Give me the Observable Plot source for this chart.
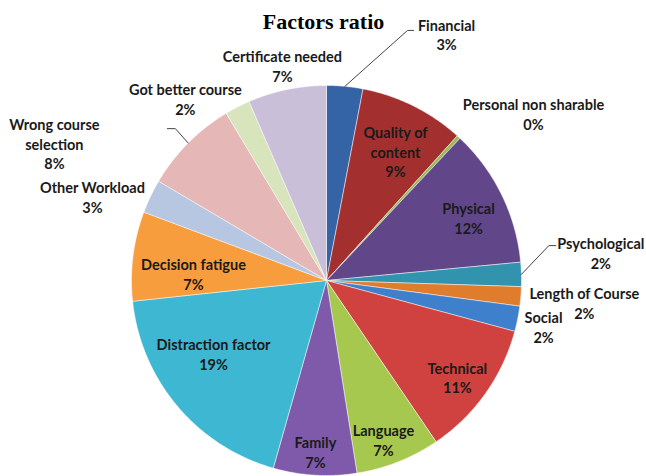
<!DOCTYPE html>
<html><head><meta charset="utf-8">
<script src="https://cdn.jsdelivr.net/npm/d3@7"></script>
<script src="https://cdn.jsdelivr.net/npm/@observablehq/plot@0.6"></script>
<style>body{margin:0;background:#fff;overflow:hidden}</style>
</head><body><div id="chart"></div>
<script>
// ---- data ----
const factors = ["Financial", "Quality of content", "Personal non sharable", "Physical", "Psychological",
  "Length of Course", "Social", "Technical", "Language", "Family", "Distraction factor",
  "Decision fatigue", "Other Workload", "Wrong course selection", "Got better course", "Certificate needed"];
const shares = [3.0, 8.7, 0.3, 11.5, 2.0, 1.6, 2.1, 11.3, 7.0, 6.9, 18.9, 7.4, 2.8, 7.9, 2.1, 6.5];
const colors = ["#3564A6", "#A3302F", "#9BBB59", "#61478A", "#3193AE", "#E07D2C", "#3F80CD", "#D0423F",
  "#A6C84E", "#7F5AAB", "#3EB7D3", "#F79D3E", "#B7C7E2", "#E5B7B6", "#D7E4BC", "#CABFD9"];
const labelLines = [["Financial"], ["Quality of", "content"], ["Personal non sharable"], ["Physical"],
  ["Psychological"], ["Length of Course"], ["Social"], ["Technical"], ["Language"], ["Family"],
  ["Distraction factor"], ["Decision fatigue"], ["Other Workload"], ["Wrong course", "selection"],
  ["Got better course"], ["Certificate needed"]];
const title = "Factors ratio";

// ---- layout (label placement: angle clockwise from 12 o'clock, distance in radii) ----
const labelAngle = [26.0, 28.1, 51.1, 66.1, 84.2, 94.9, 102.0, 126.5, 160.3, 183.7, 237.1, 273.0, 289.7, 296.7, 322.2, 348.4];
const labelDist = [1.404, 0.751, 1.364, 0.797, 1.414, 1.327, 1.138, 0.835, 0.866, 0.879, 0.690, 0.683, 1.275, 1.562, 1.181, 1.125];
// leader lines: slice index, elbow and end offsets (px) from the label centre
const leaders = [
  {i: 0, ex: -39, ey: -4, tx: -33},
  {i: 4, ex: -52, ey: -7, tx: -45},
  {i: 13, ex: 121, ey: -15, tx: 113}
];

const W = 646, H = 476, CX = 326, CY = 280, R = 195;

const rows = factors.map((f, i) => ({name: f, share: shares[i], color: colors[i], lines: labelLines[i]}));
const arcs = d3.pie().sort(null).value(d => d.share)(rows);

const pt = (a, r) => [Math.sin(a) * r, -Math.cos(a) * r];

// polygon outline of each slice (in radius units, y downward)
const slicePts = [];
arcs.forEach(a => {
  const n = Math.max(2, Math.ceil((a.endAngle - a.startAngle) / (Math.PI / 360)));
  slicePts.push({name: a.data.name, color: a.data.color, x: 0, y: 0});
  for (let k = 0; k <= n; k++) {
    const t = a.startAngle + (a.endAngle - a.startAngle) * k / n;
    const [x, y] = pt(t, 1);
    slicePts.push({name: a.data.name, color: a.data.color, x, y});
  }
  slicePts.push({name: a.data.name, color: a.data.color, x: 0, y: 0});
});

const labels = arcs.map((a, i) => {
  const [x, y] = pt(labelAngle[i] * Math.PI / 180, labelDist[i]);
  return {x, y, text: a.data.lines.join("\n") + "\n" + Math.round(a.data.share) + "%"};
});

const leaderPts = [];
leaders.forEach((l, j) => {
  const a = arcs[l.i];
  const mid = (a.startAngle + a.endAngle) / 2;
  const [sx, sy] = pt(mid, 1);
  const lab = labels[l.i];
  leaderPts.push({k: j, x: sx, y: sy});
  leaderPts.push({k: j, x: lab.x + l.ex / R, y: lab.y + l.ey / R});
  leaderPts.push({k: j, x: lab.x + l.tx / R, y: lab.y + l.ey / R});
});

const chart = Plot.plot({
  width: W, height: H, margin: 0,
  x: {domain: [-CX / R, (W - CX) / R], range: [0, W], axis: null},
  y: {domain: [-CY / R, (H - CY) / R], range: [0, H], axis: null},
  color: {type: "identity"},
  style: {background: "#fff"},
  marks: [
    Plot.line(slicePts, {x: "x", y: "y", z: "name", fill: "color", stroke: "#fff", strokeWidth: 0.6, strokeOpacity: 0.8, curve: "linear"}),
    Plot.line(leaderPts, {x: "x", y: "y", z: "k", stroke: "#444", strokeWidth: 1}),
    Plot.text(labels, {x: "x", y: "y", text: "text", fontSize: 14.5, fontWeight: "bold", fontFamily: "Lato, 'Open Sans', sans-serif", fill: "#1a1a1a", lineHeight: 1.35}),
    Plot.text([title], {frameAnchor: "top", dy: 21, text: d => d, fontSize: 22, fontWeight: "bold", fontFamily: "'Liberation Serif', 'DejaVu Serif', serif", fill: "#000", lineAnchor: "middle"})
  ]
});
document.getElementById("chart").append(chart);
</script>
</body></html>
